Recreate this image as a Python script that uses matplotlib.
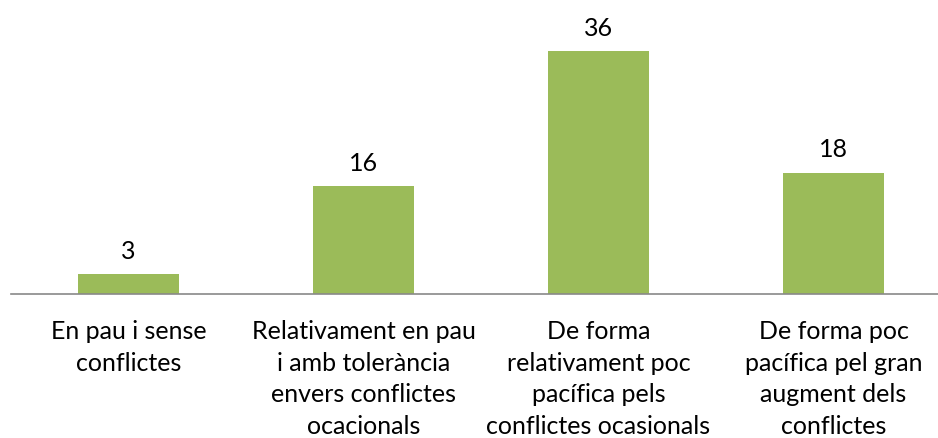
import matplotlib
matplotlib.use("Agg")
import matplotlib.pyplot as plt

CATEGORIES = [
    "En pau i sense\nconflictes",
    "Relativament en pau\ni amb tolerància\nenvers conflictes\nocacionals",
    "De forma\nrelativament poc\npacífica pels\nconflictes ocasionals",
    "De forma poc\npacífica pel gran\naugment dels\nconflictes",
]
VALUES = [3, 16, 36, 18]

BAR_COLOR = "#9BBB59"
AXIS_COLOR = "#898989"

plt.rcParams["font.family"] = ["Lato", "DejaVu Sans"]

fig = plt.figure(figsize=(9.38, 4.39), dpi=100)
ax = fig.add_axes([11 / 938, 144 / 439, 940 / 938, 270 / 439])

x = list(range(len(VALUES)))
bars = ax.bar(x, VALUES, width=0.434, color=BAR_COLOR)
for b, v in zip(bars, VALUES):
    ax.text(b.get_x() + b.get_width() / 2, v + 1.8, str(v),
            ha="center", va="bottom", fontsize=18, color="#000000")

ax.set_xlim(-0.5, len(VALUES) - 0.5)
ax.set_ylim(0, 40)
ax.set_xticks(x)
ax.set_xticklabels(CATEGORIES, fontsize=18, linespacing=1.45, va="top")
ax.tick_params(axis="x", length=0, pad=18)
ax.set_yticks([])
for side in ["top", "right", "left"]:
    ax.spines[side].set_visible(False)
ax.spines["bottom"].set_color(AXIS_COLOR)
ax.spines["bottom"].set_linewidth(1.2)

fig.savefig("out.png", dpi=100)
